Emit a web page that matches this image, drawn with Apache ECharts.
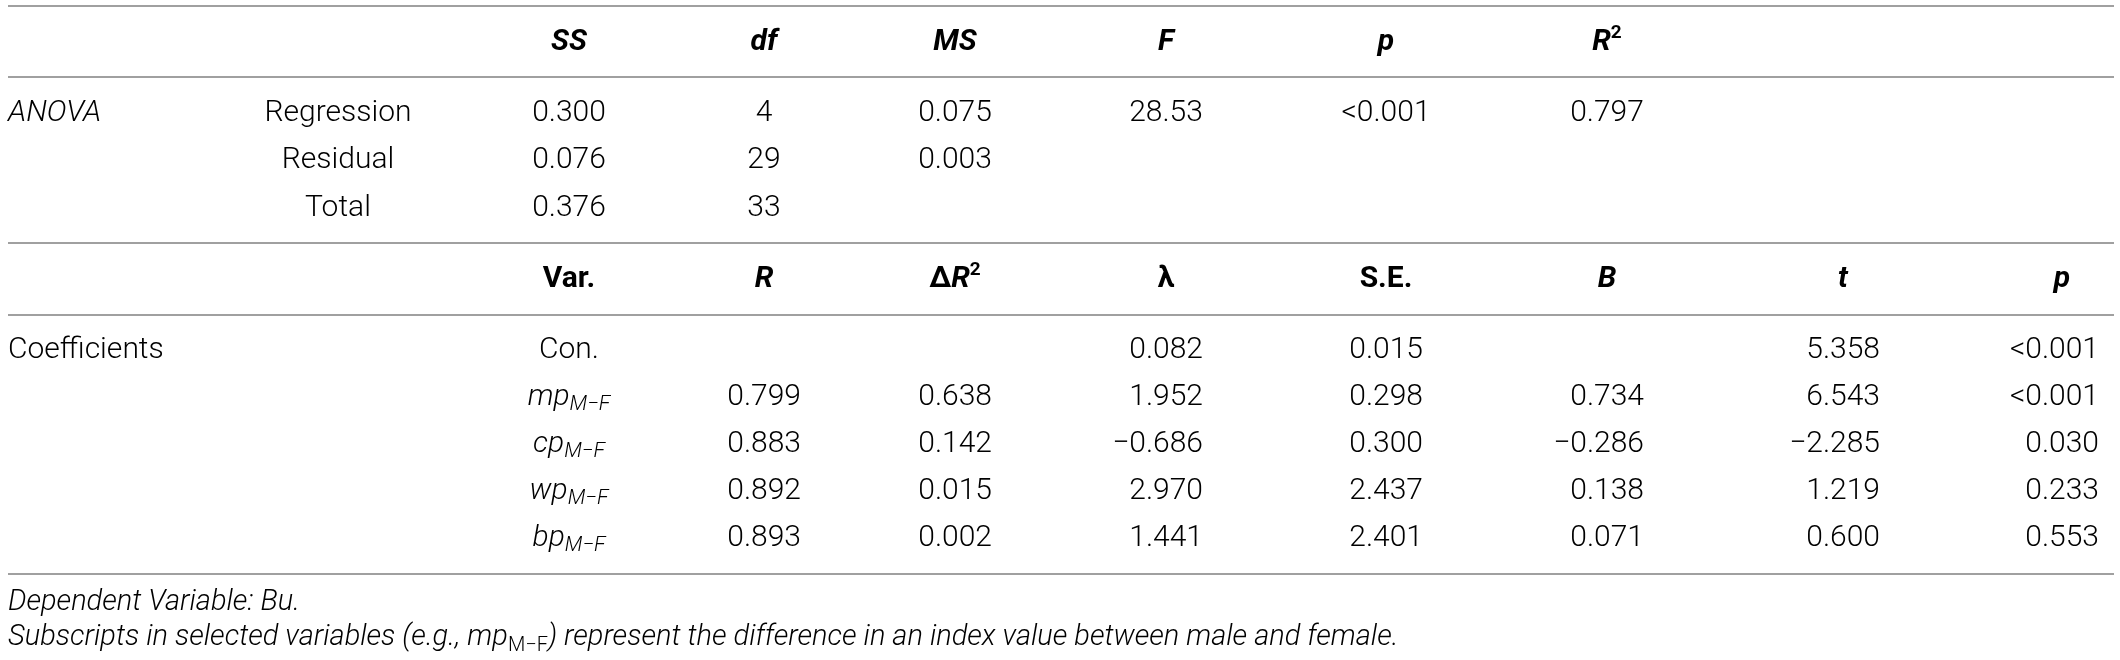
<!DOCTYPE html>
<html>
<head>
<meta charset="utf-8">
<script src="https://cdn.jsdelivr.net/npm/echarts@6/dist/echarts.min.js"></script>
<style>
  html, body { margin: 0; padding: 0; background: #fff; }
  #main { width: 2120px; height: 660px; }
</style>
</head>
<body>
<div id="main"></div>
<script>
// ANOVA block
const anovaHeads = ['SS', 'df', 'MS', 'F', 'p', 'R2']
const anovaRows = ['Regression', 'Residual', 'Total']
const ssVals = [0.300, 0.076, 0.376]
const dfVals = [4, 29, 33]
const msVals = [0.075, 0.003, null]
const fVals = [28.53, null, null]
const pAnova = ['<0.001', null, null]
const r2Vals = [0.797, null, null]

// coefficients block
const coefHeads = ['Var.', 'R', 'dR2', 'lambda', 'S.E.', 'B', 't', 'p']
const varNames = ['Con.', 'mp', 'cp', 'wp', 'bp']
const rVals = [null, 0.799, 0.883, 0.892, 0.893]
const dR2Vals = [null, 0.638, 0.142, 0.015, 0.002]
const lambdaVals = [0.082, 1.952, -0.686, 2.970, 1.441]
const seVals = [0.015, 0.298, 0.300, 2.437, 2.401]
const bVals = [null, 0.734, -0.286, 0.138, 0.071]
const tVals = [5.358, 6.543, -2.285, 1.219, 0.600]
const pCoef = ['<0.001', '<0.001', '0.030', '0.233', '0.553']

const footnotes = [
  '{i|Dependent Variable: Bu.}',
  '{i|Subscripts in selected variables (e.g., mp}{subn|M\u2212F}{i|) represent the difference in an index value between male and female.}'
]

// layout
const COLX = [8, 338, 569, 764, 955, 1166, 1386, 1607, 1843, 2062]
const RIGHT_OFF = 37
const HEAD1_Y = 42
const HEAD2_Y = 279
const ROWS1_Y = 113
const ROWS2_Y = 350
const ROW_STEP1 = 47.5
const ROW_STEP2 = 47
const RULES_Y = [6, 77, 243, 315, 574]
const NOTES_Y = [603, 638]
const RULE_X0 = 8
const RULE_X1 = 2114

const FONT = 'Roboto, "Liberation Sans", Arial, sans-serif'
const base = { fontFamily: FONT, fontSize: 30, fontWeight: 300, color: '#262626' }
const RICH = {
  n: { ...base },
  i: { ...base, fontStyle: 'italic' },
  b: { ...base, fontWeight: 'bold', color: '#1a1a1a' },
  bi: { ...base, fontWeight: 'bold', fontStyle: 'italic', color: '#1a1a1a' },
  sup: { ...base, fontSize: 19, fontWeight: 'bold', color: '#1a1a1a', padding: [0, 0, 18, 0] },
  sub: { ...base, fontSize: 21, fontStyle: 'italic', padding: [16, 0, 0, 0] }
}
const NOTE_RICH = {
  i: { ...base, fontSize: 29, fontStyle: 'italic' },
  subn: { ...base, fontSize: 20, padding: [15, 0, 0, 0] }
}

const HEAD_MARKUP = {
  'SS': '{bi|SS}', 'df': '{bi|df}', 'MS': '{bi|MS}', 'F': '{bi|F}', 'p': '{bi|p}',
  'R2': '{bi|R}{sup|2}', 'Var.': '{b|Var.}', 'R': '{bi|R}', 'dR2': '{b|\u0394}{bi|R}{sup|2}',
  'lambda': '{b|\u03bb}', 'S.E.': '{b|S.E.}', 'B': '{bi|B}', 't': '{bi|t}'
}

function fmt(v, d) {
  if (v === null || v === undefined) return null
  if (typeof v === 'string') return v
  return (v < 0 ? '\u2212' : '') + Math.abs(v).toFixed(d)
}

const cells = []
function addCell(x, y, text, align, rich) {
  if (text === null) return
  cells.push({ x, y, text, align, rich: rich || RICH })
}

// ANOVA header + rows
anovaHeads.forEach((h, i) => addCell(COLX[i + 2], HEAD1_Y, HEAD_MARKUP[h], 'center'))
addCell(COLX[0], ROWS1_Y, '{i|ANOVA}', 'left')
const anovaCols = [
  ssVals.map(v => fmt(v, 3)),
  dfVals.map(v => fmt(v, 0)),
  msVals.map(v => fmt(v, 3)),
  fVals.map(v => fmt(v, 2)),
  pAnova.map(v => fmt(v, 3)),
  r2Vals.map(v => fmt(v, 3))
]
anovaRows.forEach((name, r) => {
  const y = ROWS1_Y + r * ROW_STEP1
  addCell(COLX[1], y, '{n|' + name + '}', 'center')
  anovaCols.forEach((col, c) => {
    const s = col[r]
    if (s !== null) addCell(COLX[c + 2], y, '{n|' + s + '}', 'center')
  })
})

// coefficient header + rows
coefHeads.forEach((h, i) => addCell(COLX[i + 2], HEAD2_Y, HEAD_MARKUP[h], 'center'))
addCell(COLX[0], ROWS2_Y, '{n|Coefficients}', 'left')
const coefCols = [rVals, dR2Vals, lambdaVals, seVals, bVals, tVals, pCoef]
varNames.forEach((name, r) => {
  const y = ROWS2_Y + r * ROW_STEP2
  const label = r === 0 ? '{n|' + name + '}' : '{i|' + name + '}{sub|M\u2212F}'
  addCell(COLX[2], y, label, 'center')
  coefCols.forEach((col, c) => {
    const s = fmt(col[r], 3)
    if (s !== null) addCell(COLX[c + 3] + RIGHT_OFF, y, '{n|' + s + '}', 'right')
  })
})

// footnotes
footnotes.forEach((t, k) => addCell(COLX[0], NOTES_Y[k], t, 'left', NOTE_RICH))

const chart = echarts.init(document.getElementById('main'))
chart.setOption({
  animation: false,
  backgroundColor: '#fff',
  grid: { left: 0, right: 0, top: 0, bottom: 0 },
  xAxis: { type: 'value', min: 0, max: 2120, show: false },
  yAxis: { type: 'value', min: 0, max: 660, inverse: true, show: false },
  series: [
    {
      type: 'custom',
      silent: true,
      data: RULES_Y.map(y => [RULE_X0, y]),
      renderItem: (params, api) => {
        const p0 = api.coord([api.value(0), api.value(1)])
        const p1 = api.coord([RULE_X1, api.value(1)])
        return {
          type: 'line',
          shape: { x1: p0[0], y1: p0[1], x2: p1[0], y2: p1[1] },
          style: { stroke: '#a0a0a0', lineWidth: 2 }
        }
      }
    },
    {
      type: 'custom',
      silent: true,
      data: cells.map(c => [c.x, c.y]),
      renderItem: (params, api) => {
        const cell = cells[params.dataIndex]
        const pt = api.coord([api.value(0), api.value(1)])
        return {
          type: 'text',
          x: pt[0],
          y: pt[1],
          style: {
            text: cell.text,
            rich: cell.rich,
            align: cell.align,
            verticalAlign: 'middle'
          }
        }
      }
    }
  ]
})
</script>
</body>
</html>
